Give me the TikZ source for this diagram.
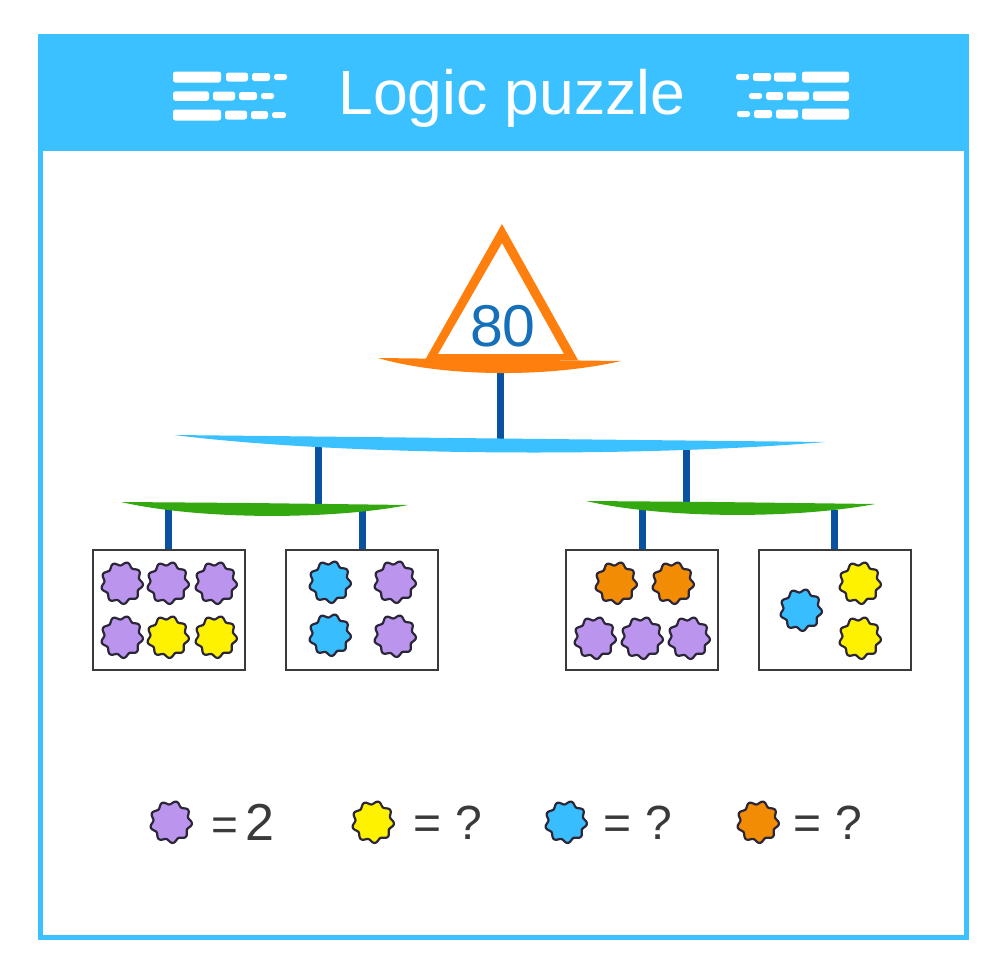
\documentclass[tikz,border=0pt]{standalone}
\usepackage{fontspec}
\setmainfont{Liberation Sans}
\definecolor{sky}{HTML}{3BC1FF}
\definecolor{stemblue}{HTML}{0A52A0}
\definecolor{leaf}{HTML}{33A90F}
\definecolor{tri}{HTML}{FF7F0E}
\definecolor{numblue}{HTML}{1570B9}
\definecolor{ink}{HTML}{3A3A3A}
\definecolor{fpurple}{HTML}{BB94EE}
\definecolor{fyellow}{HTML}{FFF200}
\definecolor{fblue}{HTML}{38BEFF}
\definecolor{forange}{HTML}{F28C05}
\definecolor{petal}{HTML}{2B2638}
\tikzset{
  x=1pt,y=-1pt,
  stem/.style={draw=stemblue,line width=7pt},
  puzzlebox/.style={draw=ink,line width=2.3pt,fill=white,minimum width=152pt,minimum height=120pt,inner sep=0pt,anchor=north west},
  legendtext/.style={font=\fontsize{48}{48}\selectfont,text=ink,anchor=base west,inner sep=0pt},
  dashbar/.style={fill=white,rounded corners=2.5pt},
  flower/.pic={\filldraw[fill=#1,draw=petal,line width=2.2pt,line join=round]
     plot[smooth cycle,samples=108,domain=0:356.67,variable=\t] (\t:{19.3+1.7*cos(9*(\t-85))});}
}
\newcommand{\bars}[2]{\foreach \a/\b/\h in {#2}{\fill[dashbar] (\a,#1-\h/2) rectangle (\b,#1+\h/2);}}
\begin{document}
\begin{tikzpicture}
\useasboundingbox (0,0) rectangle (1002,980);
\fill[white] (0,0) rectangle (1002,980);
% frame and header
\draw[sky,line width=5pt] (40.5,36.5) rectangle (966.5,937.5);
\fill[sky] (38,34) rectangle (969,151);
\node[font=\fontsize{62.5}{62.5}\selectfont,text=white,inner sep=0pt,anchor=base] (title) at (512,114) {Logic puzzle};
\bars{77}{173/221/11,226/248/9,252/270/8,274/287/6}
\bars{96}{173/209/9.5,213/235/9,239/257/8,261/274/6}
\bars{115}{173/221/11,225/247/9,251/268/8,272/286/6}
\bars{77}{736/749/6,753/771/8,774/796/9,802/849/11}
\bars{96}{749/762/6,766/783/8,787/809/9,813/849/9.5}
\bars{114}{737/750/6,754/772/8,776/798/9,802/849/11}
% boxes
\node[puzzlebox] (box1) at (92,549) {};
\node[puzzlebox] (box2) at (285,549) {};
\node[puzzlebox] (box3) at (565,549) {};
\node[puzzlebox] (box4) at (758,549) {};
% anchors on the bars
\coordinate (orangebar) at (500,368);
\coordinate (bluetopl) at (318,445);
\coordinate (bluetopr) at (686,445);
\coordinate (bluemid) at (500,442);
\coordinate (greenl) at (318,506);
\coordinate (greenr) at (686,505);
\coordinate (gl1) at (168,508);
\coordinate (gl2) at (362,510);
\coordinate (gr1) at (642,508);
\coordinate (gr2) at (834,510);
% stems
\draw[stem] (orangebar) -- (bluemid);
\draw[stem] (bluetopl) -- (greenl);
\draw[stem] (bluetopr) -- (greenr);
\draw[stem] (gl1) -- (gl1 |- box1.north);
\draw[stem] (gl2) -- (gl2 |- box2.north);
\draw[stem] (gr1) -- (gr1 |- box3.north);
\draw[stem] (gr2) -- (gr2 |- box4.north);
% lens bars
\fill[sky] (174,435) -- (825,442) .. controls (650,457) and (350,457) .. cycle;
\fill[leaf] (121,502) -- (250,503) -- (408,505) .. controls (330,520) and (200,520) .. cycle;
\fill[leaf] (586,501) -- (715,502) -- (875,504) .. controls (795,519) and (665,519) .. cycle;
\fill[tri] (378,358) -- (621,361) .. controls (550,377.5) and (445,377.5) .. cycle;
% triangle
\fill[tri,even odd rule] (502,224) -- (578,360) -- (425,360) -- cycle (502,243) -- (564,354) -- (438,354) -- cycle;
\node[font=\fontsize{59}{59}\selectfont,text=numblue,inner sep=0pt,anchor=base] (num) at (503,346) {80};
% flowers in the boxes
\foreach \x/\y/\c in {122/583/fpurple,168/583/fpurple,216/583/fpurple,122/637/fpurple,168/637/fyellow,216/637/fyellow,
  330/582/fblue,395/582/fpurple,330/635/fblue,395/636/fpurple,
  616/583/forange,673/583/forange,595/638/fpurple,642/638/fpurple,689/638/fpurple,
  801/610/fblue,860/583/fyellow,860/638/fyellow,
  171/822/fpurple,373/822/fyellow,566/822/fblue,758/822/forange}
  {\pic at (\x,\y) {flower=\c};}
% legend
\node[legendtext,font=\fontsize{46}{46}\selectfont] (l1) at (211,840) {=\kern 7pt{\fontsize{52}{52}\selectfont 2}};
\node[legendtext] (l2) at (413.5,839) {= ?};
\node[legendtext] (l3) at (603.5,839) {= ?};
\node[legendtext] (l4) at (793.5,839) {= ?};
\end{tikzpicture}
\end{document}
